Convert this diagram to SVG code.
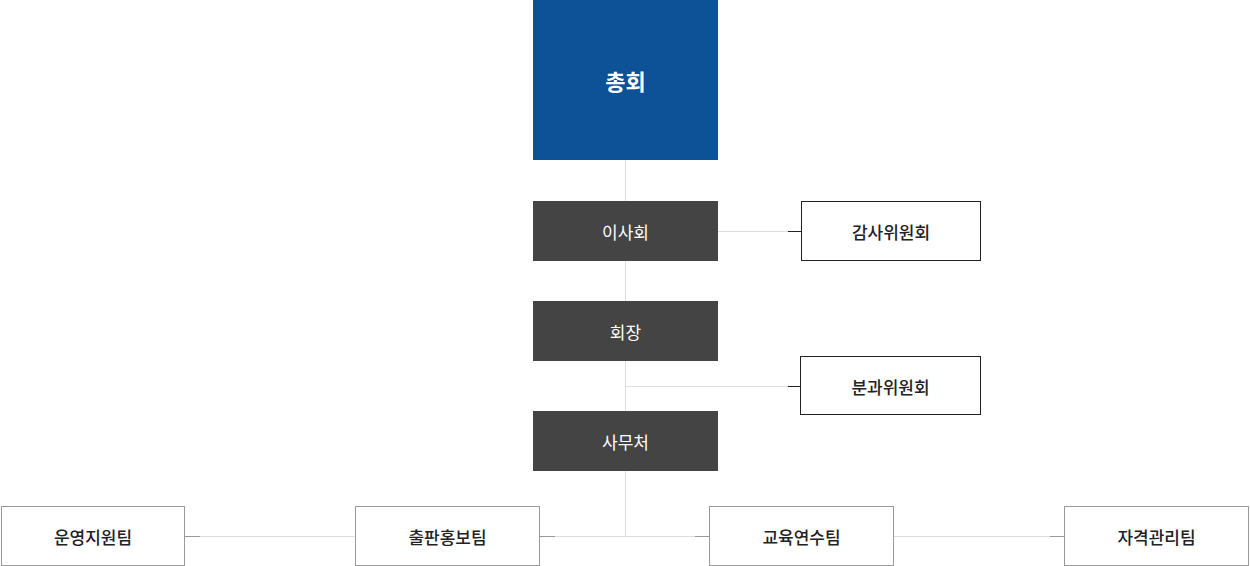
<svg xmlns="http://www.w3.org/2000/svg" width="1250" height="566" viewBox="0 0 1250 566">
<style>
text{font-family:"Noto Sans CJK KR","Noto Sans",sans-serif;text-anchor:middle;dominant-baseline:central;font-size:17px}
.title{fill:#ffffff;font-size:22px;font-weight:700}
.dark rect{fill:#444444}
.dark text{fill:#ffffff}
.com rect{fill:#ffffff;stroke:#222222;stroke-width:1}
.com text{fill:#222222;font-weight:500}
.team rect{fill:#ffffff;stroke:#999999;stroke-width:1}
.team text{fill:#222222;font-weight:500}
.lt{stroke:#dddddd;stroke-width:1;fill:none}
.bk{stroke:#222222;stroke-width:1;fill:none}
.gr{stroke:#999999;stroke-width:1;fill:none}
</style>
<rect width="1250" height="566" fill="#ffffff"/>
<g id="connectors">
<line class="lt" x1="625.5" y1="160" x2="625.5" y2="536.5"/>
<line class="lt" x1="718" y1="231.5" x2="788" y2="231.5"/>
<line class="bk" x1="788" y1="231.5" x2="801" y2="231.5"/>
<line class="lt" x1="625.5" y1="386.5" x2="788" y2="386.5"/>
<line class="bk" x1="788" y1="386.5" x2="800" y2="386.5"/>
<line class="gr" x1="185" y1="536.5" x2="200" y2="536.5"/>
<line class="lt" x1="200" y1="536.5" x2="355" y2="536.5"/>
<line class="gr" x1="540" y1="536.5" x2="555" y2="536.5"/>
<line class="lt" x1="555" y1="536.5" x2="695" y2="536.5"/>
<line class="gr" x1="695" y1="536.5" x2="709" y2="536.5"/>
<line class="lt" x1="894" y1="536.5" x2="1050" y2="536.5"/>
<line class="gr" x1="1050" y1="536.5" x2="1064" y2="536.5"/>
</g>
<g id="n-general">
<rect x="533" y="0" width="185" height="160" fill="#0d5197"/>
<text class="title" x="625.5" y="80">총회</text>
</g>
<g id="n-board" class="dark">
<rect x="533" y="201" width="185" height="60"/>
<text x="625.5" y="231">이사회</text>
</g>
<g id="n-president" class="dark">
<rect x="533" y="301" width="185" height="60"/>
<text x="625.5" y="331">회장</text>
</g>
<g id="n-secretariat" class="dark">
<rect x="533" y="411" width="185" height="60"/>
<text x="625.5" y="441">사무처</text>
</g>
<g id="n-audit" class="com">
<rect x="801.5" y="201.5" width="179" height="59"/>
<text x="891" y="231">감사위원회</text>
</g>
<g id="n-subcommittee" class="com">
<rect x="800.5" y="356.5" width="180" height="58"/>
<text x="890.5" y="386">분과위원회</text>
</g>
<g id="n-ops" class="team">
<rect x="1.5" y="506.5" width="183" height="59"/>
<text x="93" y="536">운영지원팀</text>
</g>
<g id="n-pub" class="team">
<rect x="355.5" y="506.5" width="184" height="59"/>
<text x="447.5" y="536">출판홍보팀</text>
</g>
<g id="n-edu" class="team">
<rect x="709.5" y="506.5" width="184" height="59"/>
<text x="801.5" y="536">교육연수팀</text>
</g>
<g id="n-cert" class="team">
<rect x="1064.5" y="506.5" width="184" height="59"/>
<text x="1156.5" y="536">자격관리팀</text>
</g>
</svg>
